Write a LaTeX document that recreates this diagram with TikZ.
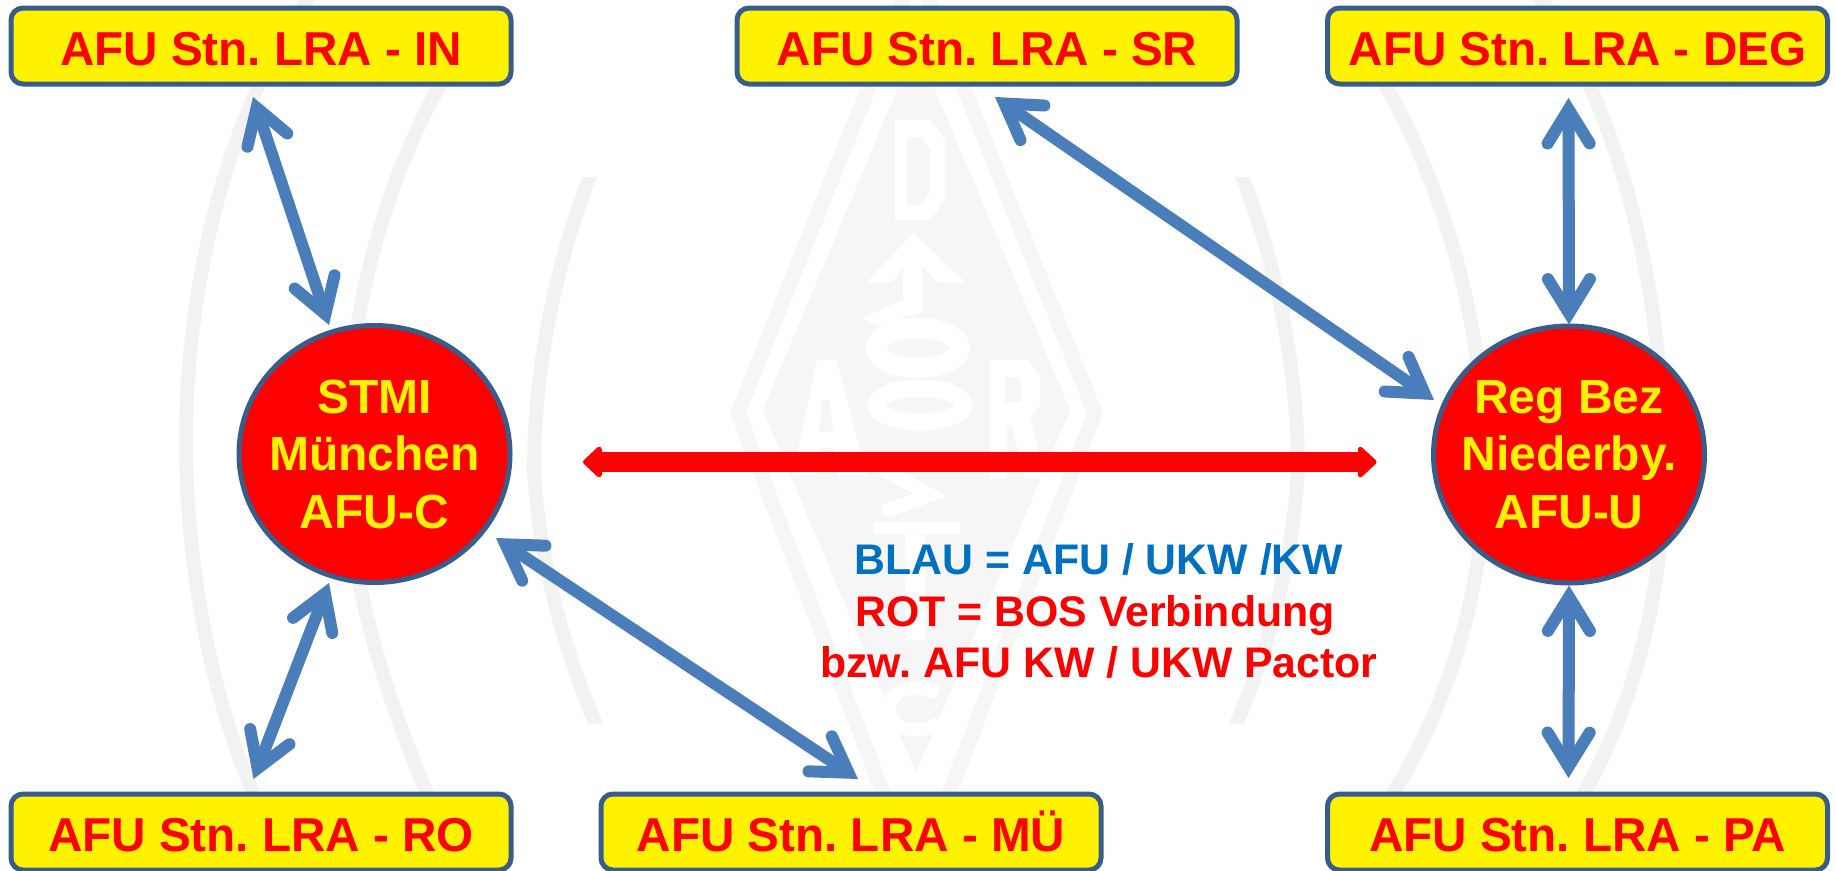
\documentclass[tikz,border=0pt]{standalone}
\usepackage{fontspec}
\setmainfont{Liberation Sans}
\frenchspacing
\usetikzlibrary{arrows.meta,calc,shapes.geometric}
\definecolor{edgeblue}{HTML}{385D8A}
\definecolor{arrowblue}{HTML}{4A7EBB}
\definecolor{legendblue}{HTML}{0070C0}
\definecolor{wmarc}{HTML}{F2F2F2}
\definecolor{wmlogo}{HTML}{F6F6F6}
\tikzset{
  stationbox/.style={draw=edgeblue,line width=5pt,fill=yellow,rounded corners=12pt,
    minimum width=500pt,minimum height=76pt,inner sep=0pt,outer sep=0pt,
    text height=38pt,text depth=0pt,
    text=red,font=\bfseries\fontsize{47.6}{50}\selectfont},
  hub/.style={draw=edgeblue,line width=5pt,fill=red,ellipse,inner sep=-70pt,outer sep=0pt,
    minimum width=271pt,minimum height=257pt,text=yellow,align=center,
    font=\bfseries\fontsize{48}{57.5}\selectfont},
  bluelink/.style={draw=arrowblue,line width=12pt,
    {Straight Barb[length=34pt,width=42pt,line width=12pt,line cap=round,line join=miter]}-{Straight Barb[length=34pt,width=42pt,line width=12pt,line cap=round,line join=miter]}},
  redlink/.style={draw=red,line width=20pt,
    {Triangle[length=20pt,width=36pt,round]}-{Triangle[length=20pt,width=36pt,round]}},
  wmline/.style={draw=wmarc,line width=14pt},
  wmband/.style={draw=wmlogo,line width=15pt,line join=miter},
}
\begin{document}
\begin{tikzpicture}[x=1pt,y=-1pt]
\useasboundingbox (0,0) rectangle (1835,870);
% watermark: arcs
\begin{scope}
\clip (0,0) rectangle (1835,870);
\draw[wmline] (318,-15) .. controls (230,100) and (186,280) .. (186,440) .. controls (186,600) and (225,740) .. (270,830);
\draw[wmline] (455,60) .. controls (385,170) and (346,320) .. (346,455) .. controls (346,590) and (395,720) .. (440,825);
\draw[wmline] (1538,-5) .. controls (1615,100) and (1664,280) .. (1664,470) .. controls (1664,620) and (1620,740) .. (1565,825);
\draw[wmline] (1370,60) .. controls (1440,170) and (1485,320) .. (1485,470) .. controls (1485,600) and (1440,730) .. (1375,820);
\begin{scope}
\clip (0,177) rectangle (1835,723);
\draw[wmline] (605,140) .. controls (560,240) and (534,360) .. (534,470) .. controls (540,580) and (575,680) .. (605,745);
\draw[wmline] (1227,140) .. controls (1272,240) and (1298,360) .. (1298,470) .. controls (1292,580) and (1257,680) .. (1227,745);
\end{scope}
% watermark: logo
\draw[wmband] (916,-30) -- (738,413) -- (916,880) -- (1095,413) -- cycle;
\fill[wmlogo] (916,45) -- (763,410) -- (916,773) -- (1070,410) -- cycle;
% D
\fill[white] (895,120) -- (930,120) -- (945,140) -- (945,200) -- (930,220) -- (895,220) -- cycle;
\fill[wmlogo] (907,137) -- (921,137) -- (930,150) -- (930,192) -- (921,205) -- (907,205) -- cycle;
% mast
\fill[white] (913,233) -- (965,282) -- (938,282) -- (922,266) -- (922,312) -- (878,326) -- (862,318) -- (903,300) -- (903,266) -- (893,282) -- (867,282) -- cycle;
\draw[white,line width=20pt] (918,348) ellipse [x radius=42,y radius=20];
\draw[white,line width=17pt] (920,405) ellipse [x radius=44,y radius=17];
\draw[white,line width=14pt,line cap=round] (885,470) -- (930,495) -- (888,510);
\draw[white,line width=12pt] (873,528) -- (960,528);
\fill[white] (905,535) rectangle (925,640);
\draw[white,line width=13pt] (938,693) .. controls (905,680) and (885,695) .. (890,715) .. controls (895,732) and (925,735) .. (938,722);
% A
\fill[white] (817,360) -- (837,360) -- (866,475) -- (838,475) -- (833,448) -- (821,448) -- (817,475) -- (793,475) -- cycle;
\fill[wmlogo] (822,400) -- (830,400) -- (833,432) -- (819,432) -- cycle;
% R
\fill[white] (990,360) -- (1028,360) -- (1040,375) -- (1040,405) -- (1030,418) -- (1046,478) -- (1024,478) -- (1012,425) -- (1007,425) -- (1007,478) -- (990,478) -- cycle;
\fill[wmlogo] (1005,377) -- (1020,377) -- (1022,402) -- (1005,402) -- cycle;
\end{scope}
% stations
\node[stationbox] (in)  at (261,46) {AFU Stn. LRA - IN};
\node[stationbox] (sr)  at (987,46)   {AFU Stn. LRA - SR};
\node[stationbox] (deg) at (1577.5,46)  {AFU Stn. LRA - DEG};
\node[stationbox] (ro)  at (261,832) {AFU Stn. LRA - RO};
\node[stationbox] (mu)  at (851,832)  {AFU Stn. LRA - MÜ};
\node[stationbox] (pa)  at (1577.5,832) {AFU Stn. LRA - PA};
% hubs
\node[hub] (stmi) at (374.5,454) {STMI\\München\\AFU-C};
\node[hub] (reg)  at (1569,454.5) {Reg Bez\\Niederby.\\AFU-U};
% links
\draw[bluelink] ($(in.south)+(-8,13)$) -- ($(stmi.center)+(-45.5,-129)$);
\draw[bluelink] ($(sr.south)+(8,13)$) -- ($(reg.center)+(-135,-54.5)$);
\draw[bluelink] ($(deg.south)+(-9,14)$) -- ($(reg.center)+(0,-130)$);
\draw[bluelink] ($(reg.center)+(0,131)$) -- ($(pa.north)+(-9,-16)$);
\draw[bluelink] ($(stmi.center)+(-45.5,129)$) -- ($(ro.north)+(-7.5,-15)$);
\draw[bluelink] ($(stmi.center)+(121.5,84)$) -- ($(mu.north)+(7,-15)$);
\draw[redlink] ($(stmi.east)+(73,8)$) -- ($(reg.west)+(-57,7.5)$);
% legend
\node[align=center,inner sep=0pt,font=\bfseries\fontsize{42.8}{51.5}\selectfont] (legend) at (1099,611)
  {\textcolor{legendblue}{BLAU = AFU / UKW /KW}\\
   \textcolor{red}{ROT = BOS Verbindung\hspace{8pt}}\\
   \textcolor{red}{bzw. AFU KW / UKW Pactor}};
\end{tikzpicture}
\end{document}
